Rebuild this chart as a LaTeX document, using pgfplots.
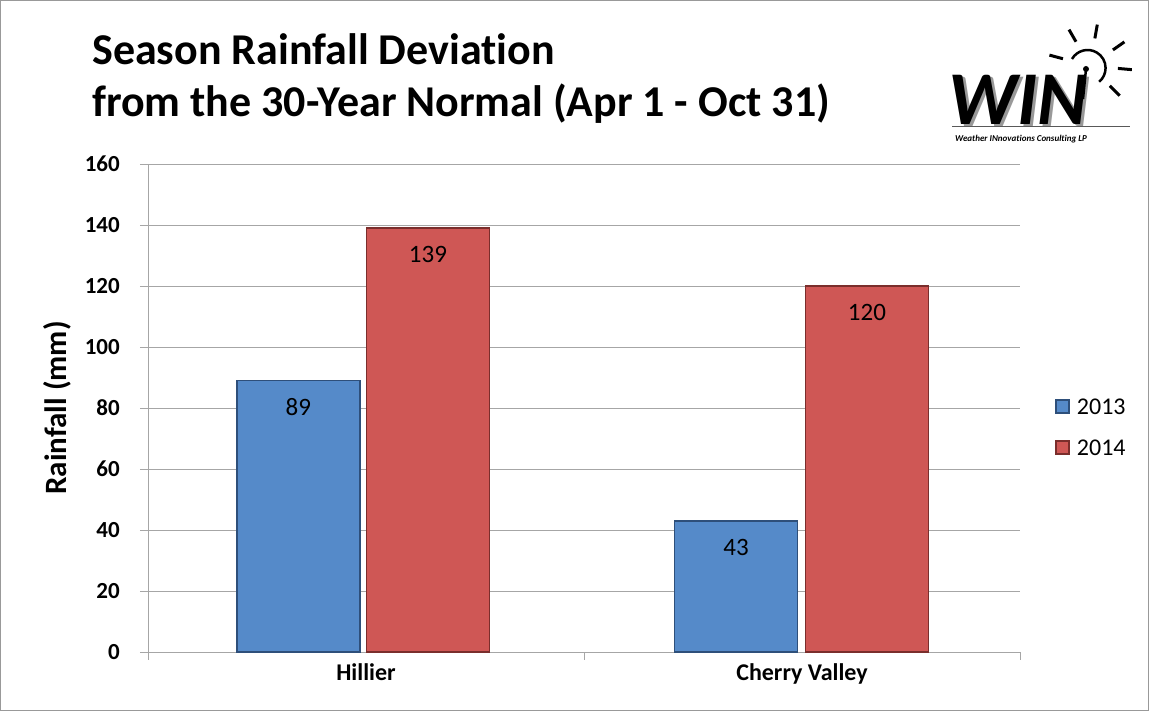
\documentclass[border=0pt]{standalone}
\usepackage{pgfplots}
\pgfplotsset{compat=1.18}
\usepackage{fontspec}
\setmainfont{Carlito}[Ligatures=NoCommon]
\definecolor{b13}{HTML}{558AC9}
\definecolor{b13d}{HTML}{2E4F7A}
\definecolor{r14}{HTML}{CF5755}
\definecolor{r14d}{HTML}{7A2E2C}
\definecolor{gridc}{HTML}{A6A6A6}
\begin{document}
\begin{tikzpicture}
\begin{scope}[x=1pt,y=1pt]
\useasboundingbox (0,0) rectangle (1149,711);
\draw[gray!80, line width=1pt] (0.5,0.5) rectangle (1148.5,710.5);
% title
\node[anchor=base west, inner sep=0, font=\fontsize{44}{50}\selectfont\bfseries] at (92,646) {Season Rainfall Deviation};
\node[anchor=base west, inner sep=0, font=\fontsize{44}{50}\selectfont\bfseries] at (92,594) {from the 30-Year Normal (Apr 1 - Oct 31)};
% logo
\node[anchor=base west, inner sep=0, font=\fontsize{76}{80}\selectfont\bfseries\itshape, text=black!40] at (951,584) {WIN};
\node[anchor=base west, inner sep=0, font=\fontsize{76}{80}\selectfont\bfseries\itshape] at (948,586) {WIN};
\draw[black, line width=2.5pt] (1086,642) -- (1083,612);
\fill (1086,642) circle (3);
\draw[black, line width=2.5pt] (1072,652) arc[start angle=150, end angle=-50, radius=18];
\foreach \a in {120,80,35,-5,-45,165} {
  \draw[black, line width=3pt] ({1090+28*cos(\a)},{645+28*sin(\a)}) -- ({1090+42*cos(\a)},{645+42*sin(\a)});
}
\draw[gray!70!black, line width=1pt] (952,584) -- (1130,584);
\node[anchor=base west, inner sep=0, font=\fontsize{9}{10}\selectfont\bfseries\itshape] at (955,569) {Weather INnovations Consulting LP};
\end{scope}
\begin{axis}[
  at={(148pt,59pt)}, anchor=south west,
  width=872pt, height=488pt, scale only axis,
  xmin=0, xmax=2, ymin=0, ymax=160,
  ytick={0,20,...,160},
  xtick={0,1,2}, xticklabels={},
  extra x ticks={0.5,1.5},
  extra x tick labels={Hillier, Cherry Valley},
  extra x tick style={major tick length=0pt, grid=none},
  ymajorgrids, grid style={gridc, line width=0.8pt},
  axis x line*=bottom, axis y line*=left,
  axis line style={gridc, line width=0.8pt, -},
  tick style={gridc, line width=0.8pt},
  tick align=outside, major tick length=8pt,
  /pgf/number format/assume math mode=true,
  yticklabel style={font=\fontsize{23}{24}\selectfont\bfseries, xshift=-20pt, anchor=east, inner sep=0pt},
  xticklabel style={font=\fontsize{24}{26}\selectfont\bfseries, yshift=-8pt},
  ylabel={Rainfall (mm)},
  ylabel style={font=\fontsize{31}{33}\selectfont\bfseries, yshift=10pt},
  ybar, bar width=0.282, bar shift=0pt,
  nodes near coords,
  every node near coord/.append style={anchor=north, yshift=-14pt, font=\fontsize{25}{26}\selectfont, text=black},
  legend style={at={(1.037,0.46)}, anchor=west, draw=none, fill=none,
     font=\fontsize{24}{26}\selectfont, /tikz/row sep=20pt},
  legend cell align=left,
  legend image code/.code={\fill[#1] (0pt,-6pt) rectangle (13pt,7pt); \path (18pt,0pt);},
  clip=false,
]
\addplot[fill=b13, draw=b13d, line width=1.5pt] coordinates {(0.345,89) (1.349,43)};
\addplot[fill=r14, draw=r14d, line width=1.5pt] coordinates {(0.642,139) (1.649,120)};
\legend{2013,2014}
\end{axis}
\end{tikzpicture}
\end{document}
